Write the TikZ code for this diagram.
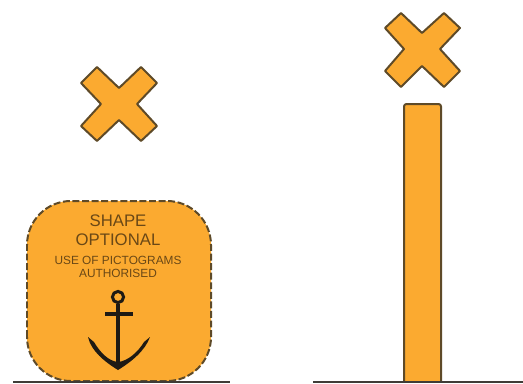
\documentclass[tikz,border=0pt]{standalone}
\usepackage{fontspec}
\setmainfont{Liberation Sans}
\definecolor{signfill}{HTML}{FBAA30}
\definecolor{signedge}{HTML}{5E4A28}
\definecolor{signtext}{HTML}{6A4816}
\definecolor{anchorink}{HTML}{1E1A14}
\tikzset{
  signshape/.style={fill=signfill,draw=signedge,line width=2pt,line join=round},
  ground/.style={draw=anchorink!85,line width=2pt},
  bigtext/.style={text=signtext,inner sep=0pt,font=\fontsize{16.8}{16.8}\selectfont},
  smalltext/.style={text=signtext,inner sep=0pt,font=\fontsize{11.9}{11.9}\selectfont},
  anchorline/.style={draw=anchorink,line width=3.6pt}
}
\begin{document}
\begin{tikzpicture}[x=1bp,y=-1bp]
\useasboundingbox (0,0) rectangle (523,383);
\fill[white] (0,0) rectangle (523,383);
% left cross
\draw[signshape] (81,83) -- (97,67) -- (119,88) -- (141,67) -- (157,83) -- (137,104)
  -- (157,126) -- (141,141) -- (119,120) -- (97,141) -- (81,126) -- (101,104) -- cycle;
% right cross
\draw[signshape] (385,28) -- (401,13) -- (422,33) -- (444,13) -- (460,28) -- (440,49)
  -- (460,71) -- (444,87) -- (422,66) -- (401,87) -- (385,71) -- (404,49) -- cycle;
% post
\draw[signshape,rounded corners=2.5pt] (404,381) -- (404,104) -- (441,104) -- (441,381);
% optional shape
\draw[signshape,dash pattern=on 7pt off 2.6pt,rounded corners=44bp] (27,381) -- (27,201) -- (211,201) -- (211,381) -- cycle;
\node[bigtext] (t1) at (118,221) {SHAPE};
\node[bigtext] (t2) at (118,240) {OPTIONAL};
\node[smalltext] (t3) at (118,260) {USE OF PICTOGRAMS};
\node[smalltext] (t4) at (118,273) {AUTHORISED};
% anchor
\draw[anchorline,line width=3pt] (118,297) circle (5.6);
\draw[anchorline] (118,303.5) -- (118,366);
\draw[anchorline] (105,314) -- (133,314);
\fill[anchorink] (88,337) .. controls (91,351) and (105,362) .. (118,370)
  .. controls (131,362) and (145,351) .. (150,337)
  -- (144,342) .. controls (138,352) and (128,361) .. (118,362)
  .. controls (108,361) and (100,352) .. (94,342) -- cycle;
% ground lines
\draw[ground] (13,381.5) -- (230,381.5);
\draw[ground] (313,381.5) -- (523,381.5);
\end{tikzpicture}
\end{document}
